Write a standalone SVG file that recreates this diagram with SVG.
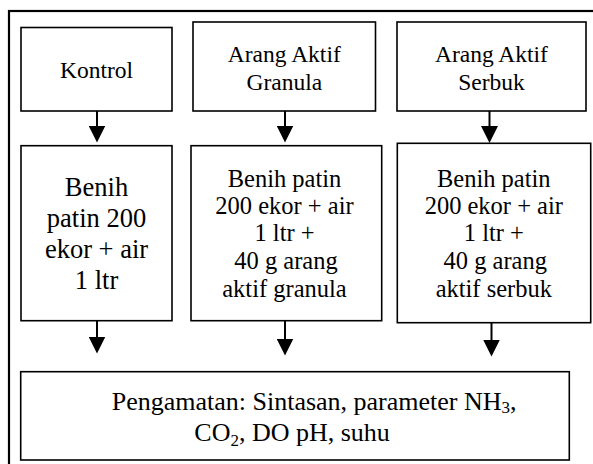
<svg xmlns="http://www.w3.org/2000/svg" width="593" height="464" viewBox="0 0 593 464">
<style>
.box{fill:#fff;stroke:#000;stroke-width:1.6}
.frame{fill:none;stroke:#000;stroke-width:2.2}
.top{font-size:23.5px}
.k{font-size:26.5px}
.m{font-size:24.5px}
.b{font-size:26px}
.sub{font-size:17px}
.conn line{stroke:#000;stroke-width:2}
</style>
<defs>
<marker id="ah" markerUnits="userSpaceOnUse" markerWidth="17" markerHeight="17" viewBox="0 0 17 17" refX="4" refY="8.5" orient="auto">
<path d="M0,0 L17,8.5 L0,17 Z" fill="#000"/>
</marker>
</defs>
<rect width="593" height="464" fill="#fff"/>
<rect class="frame" x="9" y="11" width="610" height="480"/>

<g id="kontrol">
<rect class="box" x="21" y="27.5" width="151" height="83.5"/>
<text class="top" font-family="Liberation Serif, serif" text-anchor="middle" x="96.5" y="78">Kontrol</text>
</g>
<g id="granula">
<rect class="box" x="193" y="22" width="182.5" height="89"/>
<text class="top" font-family="Liberation Serif, serif" text-anchor="middle" x="284.3" y="61.5">Arang Aktif</text>
<text class="top" font-family="Liberation Serif, serif" text-anchor="middle" x="284.3" y="90">Granula</text>
</g>
<g id="serbuk">
<rect class="box" x="397" y="22" width="189" height="89"/>
<text class="top" font-family="Liberation Serif, serif" text-anchor="middle" x="491.5" y="61.5">Arang Aktif</text>
<text class="top" font-family="Liberation Serif, serif" text-anchor="middle" x="491.5" y="90">Serbuk</text>
</g>

<g id="kontrol-benih">
<rect class="box" x="21" y="145.7" width="151" height="175"/>
<text class="k" font-family="Liberation Serif, serif" text-anchor="middle" x="96.5" y="195.5">Benih</text>
<text class="k" font-family="Liberation Serif, serif" text-anchor="middle" x="96.5" y="227">patin 200</text>
<text class="k" font-family="Liberation Serif, serif" text-anchor="middle" x="96.5" y="257.5">ekor + air</text>
<text class="k" font-family="Liberation Serif, serif" text-anchor="middle" x="96.5" y="289">1 ltr</text>
</g>
<g id="granula-benih">
<rect class="box" x="191" y="145.7" width="190.7" height="175"/>
<text class="m" font-family="Liberation Serif, serif" text-anchor="middle" x="284.5" y="186.5">Benih patin</text>
<text class="m" font-family="Liberation Serif, serif" text-anchor="middle" x="284.5" y="213.8">200 ekor + air</text>
<text class="m" font-family="Liberation Serif, serif" text-anchor="middle" x="284.5" y="241">1 ltr +</text>
<text class="m" font-family="Liberation Serif, serif" text-anchor="middle" x="286" y="268.5">40 g arang</text>
<text class="m" font-family="Liberation Serif, serif" text-anchor="middle" x="284.5" y="296.5">aktif granula</text>
</g>
<g id="serbuk-benih">
<rect class="box" x="397.3" y="143.3" width="193.4" height="179.4"/>
<text class="m" font-family="Liberation Serif, serif" text-anchor="middle" x="493.8" y="186.7">Benih patin</text>
<text class="m" font-family="Liberation Serif, serif" text-anchor="middle" x="493.8" y="214">200 ekor + air</text>
<text class="m" font-family="Liberation Serif, serif" text-anchor="middle" x="493.8" y="241.3">1 ltr +</text>
<text class="m" font-family="Liberation Serif, serif" text-anchor="middle" x="495.3" y="268.7">40 g arang</text>
<text class="m" font-family="Liberation Serif, serif" text-anchor="middle" x="493.8" y="296.7">aktif serbuk</text>
</g>

<g id="pengamatan">
<rect class="box" x="20.7" y="371.7" width="548.6" height="88.3"/>
<text class="b" font-family="Liberation Serif, serif" x="111.7" y="410">Pengamatan: Sintasan, parameter NH<tspan class="sub" dy="3">3</tspan><tspan dy="-3">,</tspan></text>
<text class="b" font-family="Liberation Serif, serif" x="194.3" y="441">CO<tspan class="sub" dy="5">2</tspan><tspan dy="-5">, DO pH, suhu</tspan></text>
</g>

<g id="connectors" class="conn">
<line x1="97" y1="111" x2="97" y2="129.5" marker-end="url(#ah)"/>
<line x1="285" y1="111" x2="285" y2="129.5" marker-end="url(#ah)"/>
<line x1="489.5" y1="111" x2="489.5" y2="130" marker-end="url(#ah)"/>
<line x1="97" y1="321" x2="97" y2="340.5" marker-end="url(#ah)"/>
<line x1="285" y1="321" x2="285" y2="342.5" marker-end="url(#ah)"/>
<line x1="491.5" y1="323" x2="491.5" y2="343.5" marker-end="url(#ah)"/>
</g>
</svg>
